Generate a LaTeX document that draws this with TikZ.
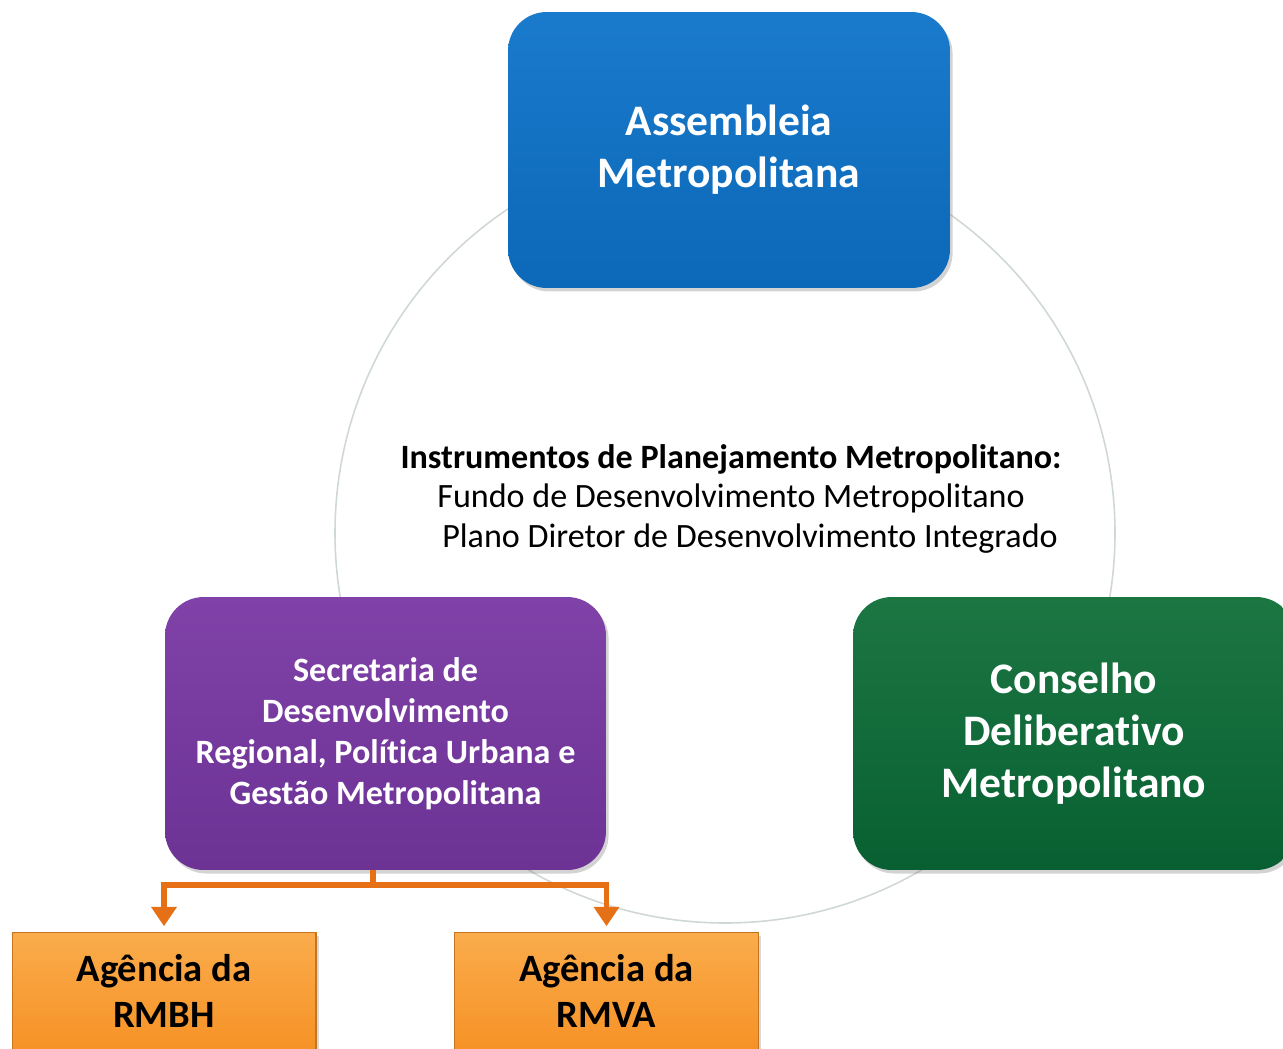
\documentclass[tikz,border=0pt]{standalone}
\usepackage{fontspec}
\setmainfont{Carlito}
\usepackage{tikz}
\usetikzlibrary{shadows}
\usetikzlibrary{arrows.meta}
\tikzset{>=latex}

\definecolor{azul}{RGB}{12,104,184}
\definecolor{azulclaro}{RGB}{26,122,204}
\definecolor{roxo}{RGB}{108,50,148}
\definecolor{roxoclaro}{RGB}{128,66,168}
\definecolor{verde}{RGB}{8,96,50}
\definecolor{verdeclaro}{RGB}{28,118,66}
\definecolor{laranja}{RGB}{246,146,38}
\definecolor{laranjaclaro}{RGB}{250,172,76}
\definecolor{seta}{RGB}{230,112,22}
\definecolor{anel}{RGB}{208,216,212}

\tikzset{
  caixa/.style={rounded corners=22pt, text=white, align=center,
    font=\bfseries\fontsize{24.8}{29.5}\selectfont,
    drop shadow={opacity=0.35, shadow xshift=1.5pt, shadow yshift=-2pt}},
  agencia/.style={draw=laranja!80!black, line width=0.6pt, text=black, align=center,
    top color=laranjaclaro, bottom color=laranja,
    minimum width=6.08cm, minimum height=2.36cm,
    font=\bfseries\fontsize{22}{26}\selectfont,
    drop shadow={opacity=0.3, shadow xshift=1.5pt, shadow yshift=-2pt}},
  ramo/.style={seta, line width=3.4pt},
  ponta/.style={-{Triangle[width=14pt,length=11pt]}, shorten >=3pt},
  instr/.style={font=\fontsize{19.4}{22.5}\selectfont}
}

\begin{document}
\begin{tikzpicture}[x=0.02cm, y=-0.02cm]
  \useasboundingbox (0,0) rectangle (1283,1048);
  \clip (0,0) rectangle (1283,1048);

  % anel ao fundo
  \draw[anel, line width=0.9pt] (725,533) circle (390);

  % orgaos
  \node[caixa, top color=azulclaro, bottom color=azul,
        minimum width=8.84cm, minimum height=5.52cm] (assembleia) at (729,150)
        {Assembleia\\Metropolitana};
  \node[caixa, top color=roxoclaro, bottom color=roxo,
        minimum width=8.82cm, minimum height=5.46cm,
        font=\bfseries\fontsize{19.4}{23.3}\selectfont] (secretaria) at (385.5,733.5)
        {Secretaria de\\Desenvolvimento\\Regional, Polít\kern0pt ica Urbana e\\Gestão Metropolitana};
  \node[caixa, top color=verdeclaro, bottom color=verde,
        minimum width=8.84cm, minimum height=5.46cm] (conselho) at (1074,733.5)
        {Conselho\\Deliberat\kern0pt ivo\\Metropolitano};

  % instrumentos
  \node[instr, font=\bfseries\fontsize{19.4}{22.5}\selectfont] (titulo) at (731,459)
        {Instrumentos de Planejamento Metropolitano:};
  \node[instr] (fundo) at (731,498) {Fundo de Desenvolvimento Metropolitano};
  \node[instr] (plano) at (750,539) {Plano Diretor de Desenvolvimento Integrado};

  % agencias
  \node[agencia] (rmbh) at (164,991) {Agência da\\RMBH};
  \node[agencia] (rmva) at (606.5,991) {Agência da\\RMVA};

  \coordinate (bifurca) at (373,885);
  \draw[ramo] (secretaria.south -| bifurca) -- (bifurca);
  \draw[ramo, ponta] (bifurca) -| (rmbh.north);
  \draw[ramo, ponta] (bifurca) -| (rmva.north);
\end{tikzpicture}
\end{document}
